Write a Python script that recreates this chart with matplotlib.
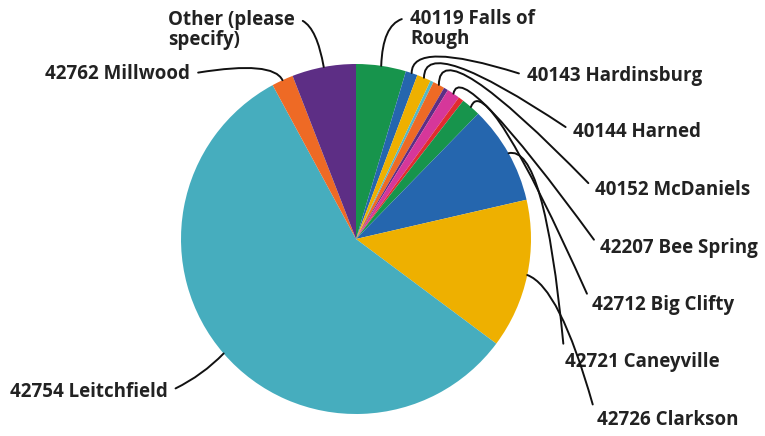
import numpy as np
import matplotlib.pyplot as plt

# slice values (percent of responses), clockwise from 12 o'clock
zip_labels = ['40119 Falls of\nRough', '40143 Hardinsburg', '40144 Harned', '',
              '40152 McDaniels', '', '42207 Bee Spring', '', '42712 Big Clifty',
              '42721 Caneyville', '42726 Clarkson', '42754 Leitchfield',
              '42762 Millwood', 'Other (please\nspecify)']
shares = [4.6, 1.1, 1.3, 0.3, 1.1, 0.4, 1.2, 0.5, 1.8, 9.1, 13.8, 56.9, 2.0, 5.9]
slice_colors = ['#17944c', '#2566ae', '#eeb000', '#52b8c6', '#ee6a25', '#5d2e85',
                '#d6379a', '#e22b2f', '#17944c', '#2566ae', '#eeb000', '#46adbe',
                '#ee6a25', '#5d2e85']

W, H = 765, 436
# label layout in pixel coords (x, y from top): text pos, ha, relpos, connection
layout = {
    '40119 Falls of\nRough': ((410, 29), 'left', (0, 0.78), 'angle3,angleA=180,angleB=88'),
    '40143 Hardinsburg': ((527, 76), 'left', (0, 0.5), 'angle3,angleA=162,angleB=90'),
    '40144 Harned': ((573, 132), 'left', (0, 0.5), 'angle3,angleA=146,angleB=90'),
    '40152 McDaniels': ((595, 190), 'left', (0, 0.5), 'angle3,angleA=134,angleB=90'),
    '42207 Bee Spring': ((600, 248), 'left', (0, 0.5), 'angle3,angleA=126,angleB=80'),
    '42712 Big Clifty': ((592, 305), 'left', (0, 0.5), 'angle3,angleA=114,angleB=70'),
    '42721 Caneyville': ((565, 362), 'left', (0, 0.5), 'angle3,angleA=95,angleB=15'),
    '42726 Clarkson': ((597, 420), 'left', (0, 0.5), 'angle3,angleA=105,angleB=-20'),
    '42754 Leitchfield': ((10, 392), 'left', (1, 0.5), 'arc3,rad=0.1'),
    '42762 Millwood': ((45, 74), 'left', (1, 0.5), 'angle3,angleA=10,angleB=115'),
    'Other (please\nspecify)': ((168, 30), 'left', (1, 0.78), 'angle3,angleA=0,angleB=100'),
}

fig = plt.figure(figsize=(W / 100, H / 100), dpi=100)
ax = fig.add_axes([0, 0, 1, 1])

cx, cy, r = 356, H - 239, 175
wedges, _ = ax.pie(shares, colors=slice_colors, startangle=90, counterclock=False,
                   center=(cx, cy), radius=r, wedgeprops=dict(linewidth=0),
                   frame=True)
ax.set_xlim(0, W)
ax.set_ylim(0, H)
ax.set_aspect('equal')
ax.axis('off')

for w, lab in zip(wedges, zip_labels):
    if not lab:
        continue
    mid = np.deg2rad((w.theta1 + w.theta2) / 2)
    px, py = cx + r * np.cos(mid), cy + r * np.sin(mid)
    (tx, ty), ha, relpos, conn = layout[lab]
    ax.annotate(lab, xy=(px, py), xytext=(tx, H - ty), ha=ha, va='center',
                fontsize=13.5, fontweight='bold', family=['Open Sans', 'DejaVu Sans'],
                color='#222222', linespacing=1.0,
                arrowprops=dict(arrowstyle='-', color='#111111', lw=1.4,
                                connectionstyle=conn, relpos=relpos,
                                shrinkA=4, shrinkB=0))

fig.savefig('out.png', dpi=100)
